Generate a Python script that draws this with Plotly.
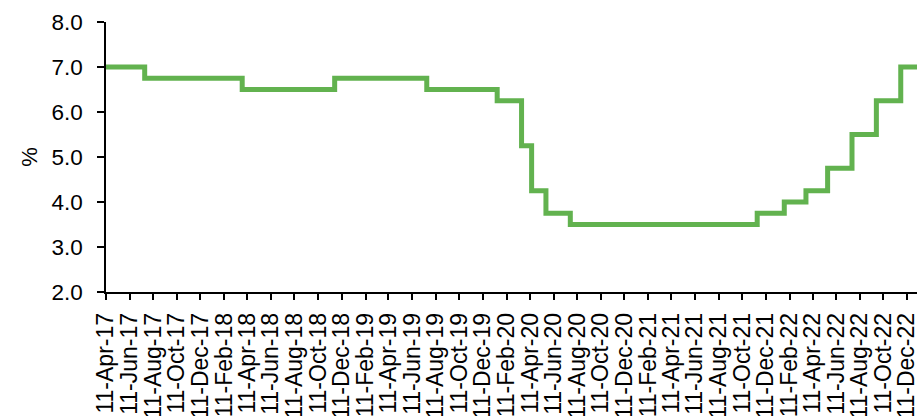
import plotly.graph_objects as go

# Policy rate change dates and levels (step series)
dates = ["2017-04-11", "2017-07-20", "2018-03-29", "2018-11-23", "2019-07-19",
         "2020-01-17", "2020-03-20", "2020-04-15", "2020-05-22", "2020-07-24",
         "2021-11-19", "2022-01-28", "2022-03-25", "2022-05-20", "2022-07-22",
         "2022-09-23", "2022-11-25", "2023-01-11"]
rates = [7.00, 6.75, 6.50, 6.75, 6.50,
         6.25, 5.25, 4.25, 3.75, 3.50,
         3.75, 4.00, 4.25, 4.75, 5.50,
         6.25, 7.00, 7.00]

y_ticks = [2.0, 3.0, 4.0, 5.0, 6.0, 7.0, 8.0]

fig = go.Figure()
fig.add_trace(go.Scatter(
    x=dates, y=rates, mode="lines",
    line=dict(color="#62B24F", width=5, shape="hv"),
    showlegend=False, hoverinfo="x+y",
))

font = "Liberation Sans, Arial, sans-serif"
fig.update_layout(
    width=917, height=416,
    margin=dict(l=106, r=0, t=22, b=124, autoexpand=False),
    paper_bgcolor="white", plot_bgcolor="white",
    font=dict(family=font, size=22, color="black"),
    xaxis=dict(
        type="date",
        range=["2017-04-11", "2023-01-06"],
        tick0="2017-04-11", dtick="M2",
        tickformat="%d-%b-%y", tickangle=-90,
        showline=True, linecolor="black", linewidth=1.5,
        ticks="outside", ticklen=6, tickcolor="black", tickwidth=1.5,
        showgrid=False, zeroline=False,
        tickfont=dict(size=23),
        ticklabelstandoff=4,
        ticklabeloverflow="allow",
    ),
    yaxis=dict(
        range=[2, 8], tickvals=y_ticks, tickformat=".1f",
        showline=True, linecolor="black", linewidth=1.5,
        ticks="outside", ticklen=7, tickcolor="black", tickwidth=1.5,
        showgrid=False, zeroline=False,
        title=dict(text="%", font=dict(size=22), standoff=8),
        tickfont=dict(size=22.5),
        ticklabelstandoff=10,
    ),
)

fig.write_html(
    "out.html",
    config={"displayModeBar": False},
    post_script="document.body.style.margin='0';document.body.style.overflow='hidden';",
)
